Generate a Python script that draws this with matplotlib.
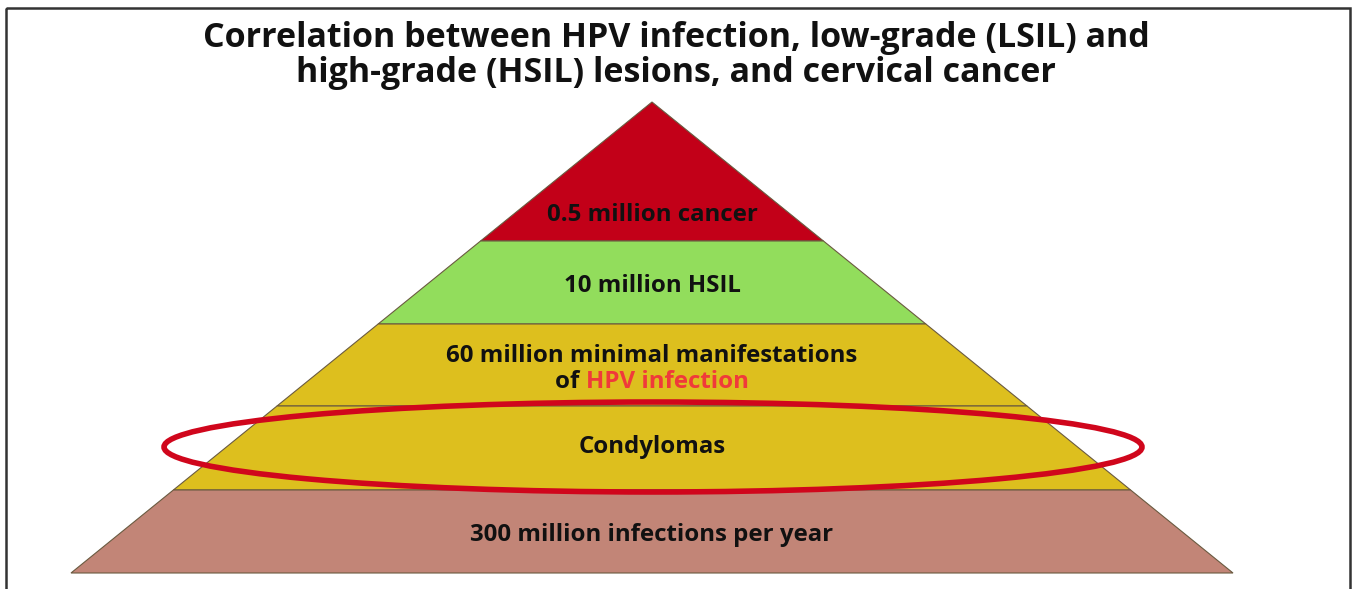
import matplotlib
matplotlib.use("Agg")
import matplotlib.pyplot as plt
from matplotlib.patches import Polygon, Ellipse, Rectangle

W, H = 1356, 589
title_lines = ["Correlation between HPV infection, low-grade (LSIL) and",
               "high-grade (HSIL) lesions, and cervical cancer"]
layer_labels = ["0.5 million cancer", "10 million HSIL",
                "60 million minimal manifestations", "Condylomas",
                "300 million infections per year"]
layer_colors = ["#C20018", "#92DD5C", "#DDBF1E", "#DDBF1E", "#C28577"]
# layer boundaries, pixel rows from apex to base
boundaries = [102, 241, 324, 406, 490, 573]
apex_x = 652
base_half = 581

FONT = "Open Sans"
TS, LS = 24.5, 17.3

fig = plt.figure(figsize=(W / 100, H / 100), dpi=100)
ax = fig.add_axes([0, 0, 1, 1])
ax.set_xlim(0, W)
ax.set_ylim(H, 0)
ax.axis("off")

# frame
ax.add_patch(Rectangle((5.5, 7.5), 1344, 600, fill=False, ec="#333333", lw=1.8))

def half(y):
    return base_half * (y - boundaries[0]) / (boundaries[-1] - boundaries[0])

for i in range(len(layer_labels)):
    y0, y1 = boundaries[i], boundaries[i + 1]
    h0, h1 = half(y0), half(y1)
    pts = [(apex_x - h0, y0), (apex_x + h0, y0), (apex_x + h1, y1), (apex_x - h1, y1)]
    ax.add_patch(Polygon(pts, closed=True, fc=layer_colors[i], ec="#6a5a40", lw=0.8))

label_y = [215, 286, 356, 447, 535]
for i, lab in enumerate(layer_labels):
    ax.text(apex_x, label_y[i], lab, ha="center", va="center", fontsize=LS,
            fontweight="bold", family=FONT, color="#111111")

# second line with red part
fig.canvas.draw()
r = fig.canvas.get_renderer()
t1 = ax.text(0, 0, "of ", fontsize=LS, fontweight="bold", family=FONT)
t2 = ax.text(0, 0, "HPV infection", fontsize=LS, fontweight="bold", family=FONT)
w1 = t1.get_window_extent(r).width
w2 = t2.get_window_extent(r).width
t1.remove(); t2.remove()
x0 = apex_x - (w1 + w2) / 2
ax.text(x0, 382, "of ", fontsize=LS, fontweight="bold", family=FONT,
        color="#111111", ha="left", va="center")
ax.text(x0 + w1, 382, "HPV infection", fontsize=LS, fontweight="bold", family=FONT,
        color="#F03A3A", ha="left", va="center")

ax.add_patch(Ellipse((653, 447), 978, 90, fill=False, ec="#D0061C", lw=4))

ax.text(676, 47, title_lines[0], ha="center", va="baseline", fontsize=TS,
        fontweight="bold", family=FONT, color="#111111")
ax.text(676, 82, title_lines[1], ha="center", va="baseline", fontsize=TS,
        fontweight="bold", family=FONT, color="#111111")

fig.savefig("out.png", dpi=100)
